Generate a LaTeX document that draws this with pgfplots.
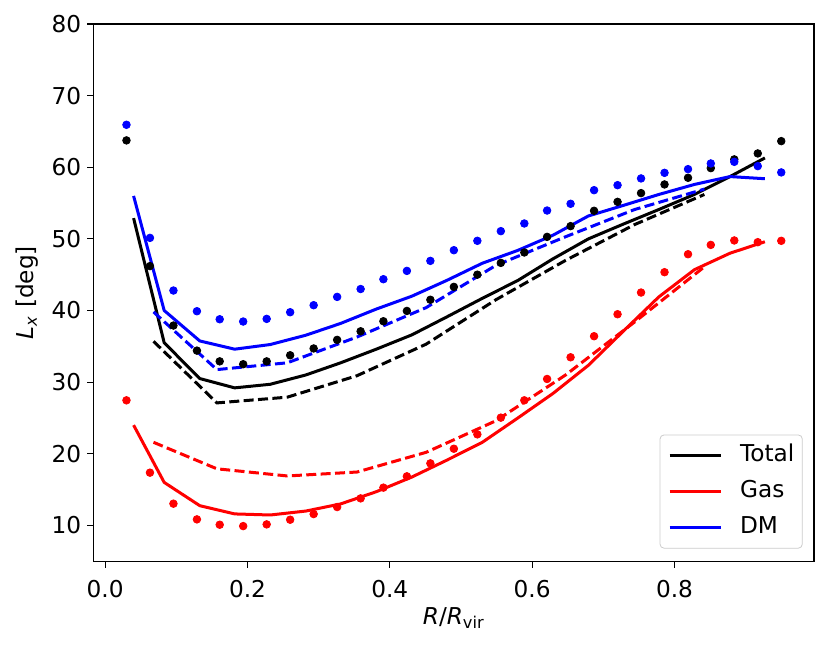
\documentclass[border=0pt]{standalone}
\usepackage{fontspec}
\setmainfont{DejaVu Sans}
\usepackage{pgfplots}
\pgfplotsset{compat=1.18}
\usetikzlibrary{calc}
\definecolor{mblue}{rgb}{0,0,1}
\definecolor{mred}{rgb}{1,0,0}
\begin{document}
\fontsize{11.6pt}{14pt}\selectfont
\begin{tikzpicture}
\begin{axis}[
  scale only axis, width=360pt, height=268.5pt,
  xmin=-0.016, xmax=0.996, ymin=5, ymax=80,
  xtick={0,0.2,0.4,0.6,0.8}, xticklabels={0.0,0.2,0.4,0.6,0.8},
  ytick={10,20,30,40,50,60,70,80}, yticklabels={10,20,30,40,50,60,70,80},
  /pgf/number format/assume math mode=true,
  tick align=outside, tick pos=left, major tick length=3.2pt,
  every tick/.style={black, line width=0.6pt},
  axis line style={line width=0.6pt},
  xticklabel style={yshift=-2.5pt},
  yticklabel style={xshift=1pt},
  font=\fontsize{11.6pt}{14pt}\selectfont,
  xlabel={\textit{R}/\textit{R}\textsubscript{vir}},
  ylabel={\textit{L}\textsubscript{\textit{x}} [deg]},
  every axis x label/.append style={at={(axis description cs:0.5,0)}, anchor=center, yshift=-28.5pt},
  every axis y label/.append style={at={(axis description cs:-0.093,0.5)}, anchor=center},
  legend style={at={(1,0)}, anchor=south east, xshift=-5.65pt, yshift=6.3pt,
    draw=black!20, rounded corners=2pt, fill=white, fill opacity=0.8, text opacity=1,
    inner xsep=4pt, inner ysep=4.9pt, row sep=6.9pt,
    nodes={inner sep=0pt, text height=8.6pt, text depth=2.4pt},
    /tikz/every odd column/.append style={column sep=8.8pt},
    font=\fontsize{11.6pt}{14pt}\selectfont},
  legend cell align=left,
  legend image code/.code={\draw[#1] (0pt,0pt) -- (25.7pt,0pt);},
]
% ---- solid lines ----
\addplot[black, line width=1.5pt] coordinates {
(0.040,52.9) (0.083,35.5) (0.133,30.5) (0.182,29.2) (0.232,29.7) (0.282,31.0)
(0.331,32.7) (0.381,34.6) (0.431,36.6) (0.480,39.1) (0.530,41.7) (0.580,44.2)
(0.629,47.2) (0.679,50.0) (0.729,52.1) (0.778,54.1) (0.828,56.2) (0.878,58.7) (0.927,61.3)};
\addlegendentry{Total}
\addplot[mred, line width=1.5pt] coordinates {
(0.040,24.0) (0.083,16.0) (0.133,12.75) (0.182,11.6) (0.232,11.45) (0.282,12.0)
(0.331,13.0) (0.381,14.7) (0.431,16.75) (0.480,19.1) (0.530,21.6) (0.580,25.0)
(0.629,28.4) (0.679,32.35) (0.729,37.2) (0.778,41.9) (0.828,45.7) (0.878,48.0) (0.927,49.6)};
\addlegendentry{Gas}
\addplot[mblue, line width=1.5pt] coordinates {
(0.040,56.0) (0.083,40.0) (0.133,35.75) (0.182,34.6) (0.232,35.25) (0.282,36.55)
(0.331,38.2) (0.381,40.2) (0.431,42.0) (0.480,44.2) (0.530,46.6) (0.580,48.4)
(0.629,50.5) (0.679,53.2) (0.729,54.7) (0.778,56.2) (0.828,57.6) (0.878,58.7) (0.927,58.4)};
\addlegendentry{DM}
% ---- dashed lines ----
\addplot[black, line width=1.5pt, dash pattern=on 5pt off 2.2pt, forget plot] coordinates {
(0.068,35.7) (0.157,27.1) (0.256,27.9) (0.354,30.9) (0.451,35.3) (0.549,41.5) (0.647,47.0) (0.744,52.0) (0.842,56.2)};
\addplot[mred, line width=1.5pt, dash pattern=on 5pt off 2.2pt, forget plot] coordinates {
(0.068,21.6) (0.157,17.9) (0.256,16.9) (0.354,17.45) (0.451,20.2) (0.549,24.6) (0.647,31.0) (0.744,38.4) (0.842,46.1)};
\addplot[mblue, line width=1.5pt, dash pattern=on 5pt off 2.2pt, forget plot] coordinates {
(0.068,39.8) (0.157,31.75) (0.256,32.7) (0.354,36.3) (0.451,40.4) (0.549,46.3) (0.647,50.3) (0.744,54.1) (0.842,56.95)};
% ---- dots ----
\addplot[black, only marks, mark=*, mark size=1.9pt, mark options={draw=none, fill=black}, forget plot] coordinates {
(0.030,63.75) (0.063,46.2) (0.096,37.9) (0.129,34.4) (0.161,32.9) (0.194,32.5) (0.227,32.9) (0.260,33.75)
(0.293,34.7) (0.326,35.9) (0.359,37.1) (0.391,38.5) (0.424,39.94) (0.457,41.5) (0.490,43.3) (0.523,45.0)
(0.556,46.65) (0.589,48.1) (0.621,50.28) (0.654,51.78) (0.687,53.92) (0.720,55.17) (0.753,56.39) (0.786,57.6)
(0.819,58.53) (0.851,59.88) (0.884,61.1) (0.917,61.93) (0.950,63.65)};
\addplot[mblue, only marks, mark=*, mark size=1.9pt, mark options={draw=none, fill=mblue}, forget plot] coordinates {
(0.030,65.93) (0.063,50.14) (0.096,42.79) (0.129,39.9) (0.161,38.78) (0.194,38.46) (0.227,38.83) (0.260,39.76)
(0.293,40.74) (0.326,41.9) (0.359,43.0) (0.391,44.37) (0.424,45.53) (0.457,46.93) (0.490,48.42) (0.523,49.73)
(0.556,51.08) (0.589,52.15) (0.621,53.96) (0.654,54.9) (0.687,56.8) (0.720,57.5) (0.753,58.44) (0.786,59.22)
(0.819,59.74) (0.851,60.53) (0.884,60.76) (0.917,60.16) (0.950,59.28)};
\addplot[mred, only marks, mark=*, mark size=1.9pt, mark options={draw=none, fill=mred}, forget plot] coordinates {
(0.030,27.46) (0.063,17.36) (0.096,13.03) (0.129,10.84) (0.161,10.09) (0.194,9.9) (0.227,10.14) (0.260,10.79)
(0.293,11.58) (0.326,12.56) (0.359,13.77) (0.391,15.27) (0.424,16.85) (0.457,18.66) (0.490,20.7) (0.523,22.71)
(0.556,25.04) (0.589,27.46) (0.621,30.44) (0.654,33.47) (0.687,36.41) (0.720,39.48) (0.753,42.51) (0.786,45.35)
(0.819,47.86) (0.851,49.16) (0.884,49.78) (0.917,49.54) (0.950,49.73)};
\end{axis}
\pgfresetboundingbox
\path ($(current axis.south west)+(-46.85pt,-42pt)$) rectangle ($(current axis.north east)+(8pt,12pt)$);
\end{tikzpicture}
\end{document}
